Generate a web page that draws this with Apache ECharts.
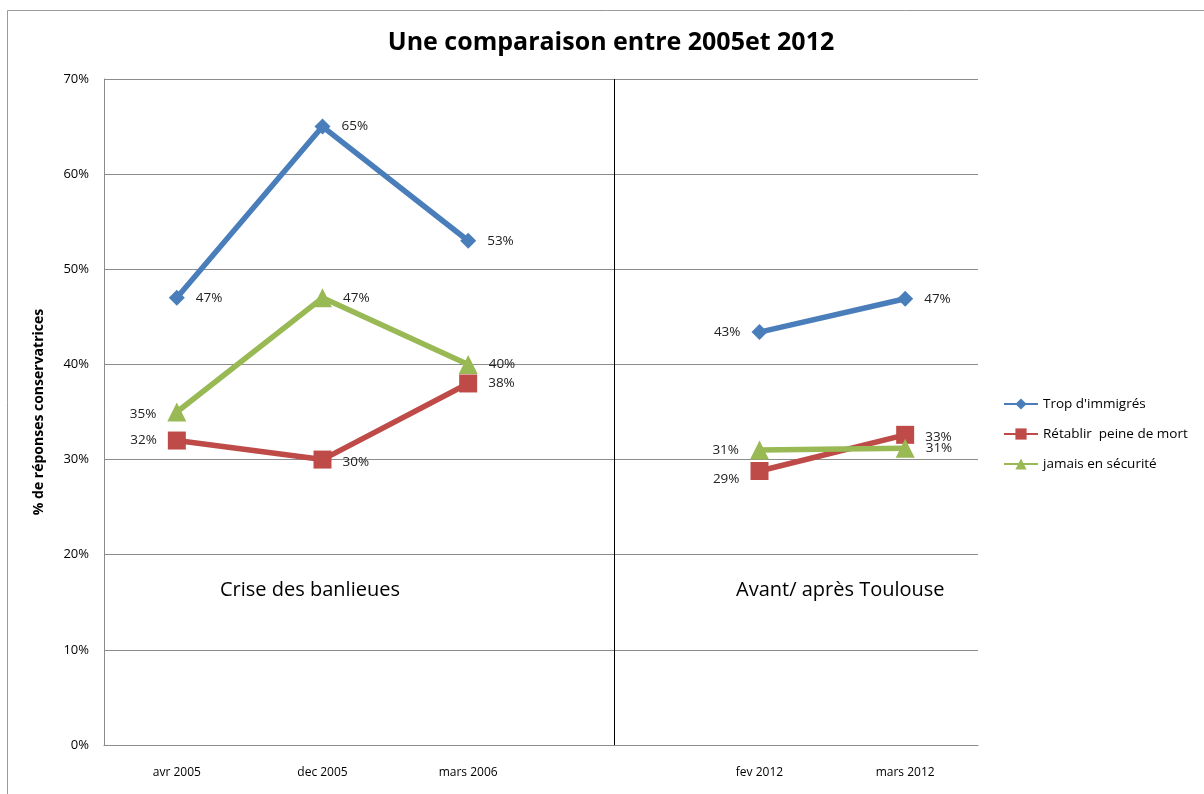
<!DOCTYPE html>
<html>
<head>
<meta charset="utf-8">
<script src="https://cdn.jsdelivr.net/npm/echarts@6/dist/echarts.min.js"></script>
<style>
  html, body { margin: 0; padding: 0; background: #fff; }
  #chart { width: 1204px; height: 794px; }
</style>
</head>
<body>
<div id="chart"></div>
<script>
// Données (en %)
const categories = ['avr 2005', 'dec 2005', 'mars 2006', '', 'fev 2012', 'mars 2012'];
const tropImmigres = [47, 65, 53, '-', 43.4, 46.9];
const peineDeMort = [32, 30, 38, '-', 28.8, 32.6];
const jamaisSecurite = [35, 47, 40, '-', 31.0, 31.2];
const yTicks = [0, 10, 20, 30, 40, 50, 60, 70];

// position des étiquettes de chaque point (comme dans l'original)
const posTrop = ['right', 'right', 'right', null, 'left', 'right'];
const posPeine = ['left', 'right', 'right', null, 'left', 'right'];
const posJamais = ['left', 'right', 'right', null, 'left', 'right'];

const FONT = '"Open Sans", "Noto Sans", sans-serif';

function buildData(values, positions, offsets) {
    return values.map((v, i) => {
        if (v === '-') return '-';
        const item = { value: v, label: { position: positions[i] } };
        if (offsets && offsets[i]) item.label.offset = offsets[i];
        return item;
    });
}

function pctLabel(p) {
    return Math.round(p.value) + '%';
}

const dom = document.getElementById('chart');
const chart = echarts.init(dom);

const baseLabel = {
    show: true,
    formatter: pctLabel,
    fontFamily: FONT,
    fontSize: 13.5,
    color: '#222',
    distance: 11
};

const option = {
    animation: false,
    backgroundColor: '#fff',
    title: {
        text: 'Une comparaison entre 2005et 2012',
        left: 606,
        top: 25,
        textAlign: 'center',
        textStyle: { fontFamily: FONT, fontSize: 25, fontWeight: 'bold', color: '#000' }
    },
    graphic: [
        {
            type: 'rect',
            shape: { x: 7.5, y: 10.5, width: 1210, height: 800 },
            style: { fill: 'none', stroke: '#9a9a9a', lineWidth: 1 },
            silent: true
        },
        {
            type: 'text',
            left: 220, top: 580,
            style: { text: 'Crise des banlieues', font: '20px ' + FONT, fill: '#000' }
        },
        {
            type: 'text',
            left: 736, top: 580,
            style: { text: 'Avant/ après Toulouse', font: '20px ' + FONT, fill: '#000' }
        }
    ],
    legend: {
        orient: 'vertical',
        left: 998,
        top: 392,
        itemWidth: 34,
        itemHeight: 14,
        itemGap: 16,
        textStyle: { fontFamily: FONT, fontSize: 13.5, color: '#000' },
        data: ["Trop d'immigrés", 'Rétablir  peine de mort', 'jamais en sécurité']
    },
    grid: { left: 104, right: 226, top: 79, bottom: 49, containLabel: false },
    xAxis: {
        type: 'category',
        data: categories,
        boundaryGap: true,
        axisLine: { lineStyle: { color: '#8c8c8c', width: 1 } },
        axisTick: { show: false },
        axisLabel: { fontFamily: FONT, fontSize: 12, color: '#000', margin: 22 },
        splitLine: { show: false }
    },
    yAxis: {
        type: 'value',
        min: 0,
        max: 70,
        interval: 10,
        name: '% de réponses conservatrices',
        nameLocation: 'middle',
        nameGap: 58,
        nameTextStyle: { fontFamily: FONT, fontSize: 14, fontWeight: 'bold', color: '#000' },
        axisLine: { show: true, lineStyle: { color: '#8c8c8c', width: 1 } },
        axisTick: { show: false },
        axisLabel: { fontFamily: FONT, fontSize: 13, color: '#000', margin: 15, formatter: '{value}%' },
        splitLine: { lineStyle: { color: '#8c8c8c', width: 1 } }
    },
    series: [
        {
            name: "Trop d'immigrés",
            type: 'line',
            data: buildData(tropImmigres, posTrop),
            connectNulls: false,
            symbol: 'diamond',
            symbolSize: 16,
            lineStyle: { color: '#4a7ebb', width: 5.5 },
            itemStyle: { color: '#4a7ebb' },
            label: baseLabel,
            markLine: {
                silent: true,
                symbol: ['none', 'none'],
                label: { show: false },
                lineStyle: { color: '#000', width: 1, type: 'solid' },
                data: [{ xAxis: 3 }]
            },
            z: 3
        },
        {
            name: 'Rétablir  peine de mort',
            type: 'line',
            data: buildData(peineDeMort, posPeine, [null, [0, 3], null, null, [0, 8], [0, 2]]),
            connectNulls: false,
            symbol: 'rect',
            symbolSize: 18,
            lineStyle: { color: '#be4b48', width: 5.5 },
            itemStyle: { color: '#be4b48' },
            label: baseLabel,
            z: 2
        },
        {
            name: 'jamais en sécurité',
            type: 'line',
            data: buildData(jamaisSecurite, posJamais, [[0, 2], null, null, [0, 3], null]),
            connectNulls: false,
            symbol: 'triangle',
            symbolSize: 19,
            lineStyle: { color: '#98b954', width: 5.5 },
            itemStyle: { color: '#98b954' },
            label: baseLabel,
            z: 4
        }
    ]
};

chart.setOption(option);
</script>
</body>
</html>
